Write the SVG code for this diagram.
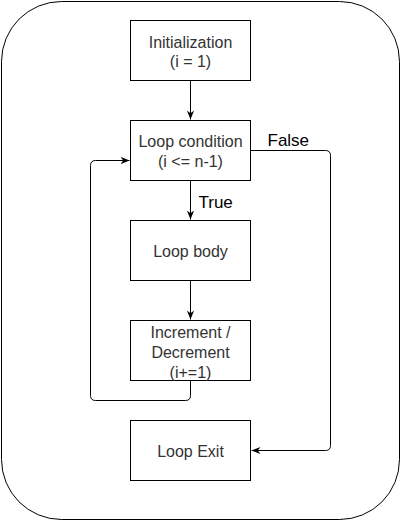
<svg xmlns="http://www.w3.org/2000/svg" width="401" height="521" viewBox="0 0 401 521">
<style>
.box{fill:#fff;stroke:#000;stroke-width:1}
.t{font-family:"Liberation Sans",Arial,sans-serif;font-size:16px;fill:#333;text-anchor:middle}
.lbl{font-family:"Liberation Sans",Arial,sans-serif;font-size:17px;fill:#000;text-anchor:start}
.edge{fill:none;stroke:#000;stroke-width:1}
</style>
<defs>
<marker id="arr" markerUnits="userSpaceOnUse" viewBox="0 0 10 10" refX="10" refY="5" markerWidth="9" markerHeight="9" orient="auto">
<path d="M0,1 L10,5 L0,9 L3,5 z" fill="#000"/>
</marker>
</defs>
<rect width="401" height="521" fill="#fff"/>
<g transform="translate(0.5,0.5)">
<rect id="frame" x="1" y="1" width="398" height="518" rx="60" ry="60" fill="none" stroke="#000"/>
<g id="connectors">
<path class="edge" d="M190 80 V119" marker-end="url(#arr)"/>
<path class="edge" d="M190 180 V219" marker-end="url(#arr)"/>
<path class="edge" d="M190 280 V319" marker-end="url(#arr)"/>
<path class="edge" d="M190 380 V395 Q190 400 185 400 H95 Q90 400 90 395 V165 Q90 160 95 160 H129" marker-end="url(#arr)"/>
<path class="edge" d="M250 150 H325 Q330 150 330 155 V445 Q330 450 325 450 H251" marker-end="url(#arr)"/>
<text class="lbl" x="267" y="145">False</text>
<text class="lbl" x="198" y="207">True</text>
</g>
<g id="init">
<rect class="box" x="130" y="20" width="120" height="60"/>
<text class="t" x="190" y="47">Initialization</text>
<text class="t" x="190" y="66.5">(i = 1)</text>
</g>
<g id="cond">
<rect class="box" x="130" y="120" width="120" height="60"/>
<text class="t" x="190" y="146.5">Loop condition</text>
<text class="t" x="190" y="166">(i &lt;= n-1)</text>
</g>
<g id="body">
<rect class="box" x="130" y="220" width="120" height="60"/>
<text class="t" x="190" y="256.5">Loop body</text>
</g>
<g id="incr">
<rect class="box" x="130" y="320" width="120" height="60"/>
<text class="t" x="190" y="337">Increment /</text>
<text class="t" x="190" y="357">Decrement</text>
<text class="t" x="190" y="377">(i+=1)</text>
</g>
<g id="exit">
<rect class="box" x="130" y="420" width="120" height="60"/>
<text class="t" x="190" y="456.5">Loop Exit</text>
</g>
</g>
</svg>
